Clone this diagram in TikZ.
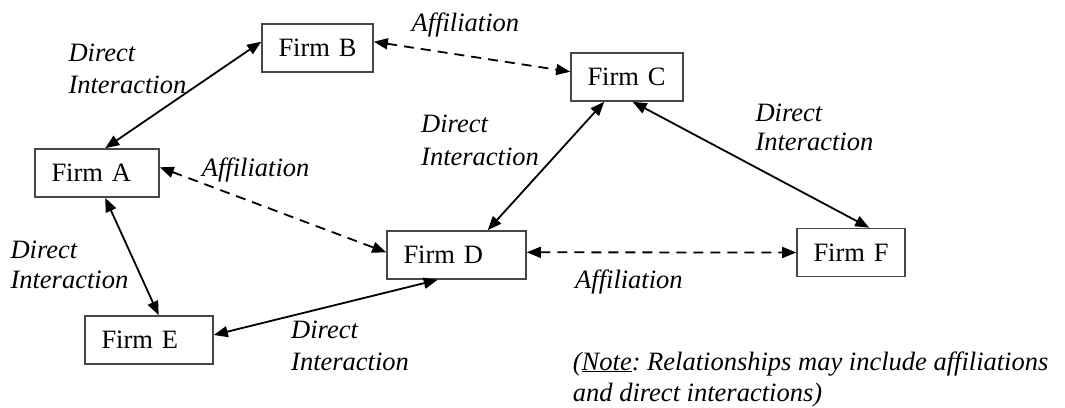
\documentclass[tikz,border=0pt]{standalone}
\usepackage{fontspec}
\setmainfont{LiberationSerif-Regular.ttf}[
  ItalicFont=LiberationSerif-Italic.ttf,
  BoldFont=LiberationSerif-Bold.ttf,
  BoldItalicFont=LiberationSerif-BoldItalic.ttf]
\usetikzlibrary{arrows.meta}
\frenchspacing
\begin{document}
\begin{tikzpicture}[x=1pt,y=-1pt,
  firm/.style={draw=black!72, line width=1.6pt, rectangle, inner xsep=16.5pt,
    inner ysep=0pt, minimum height=48pt, align=left,
    font=\fontsize{26.5}{31.7}\selectfont},
  lbl/.style={anchor=base west, inner sep=0pt,
    font=\fontsize{26.5}{31.7}\selectfont\itshape},
  link/.style={line width=1.8pt,
    {Triangle[length=14pt,width=11pt]}-{Triangle[length=14pt,width=11pt]}},
  affil/.style={link, dash pattern=on 10pt off 7pt}]

\useasboundingbox (0,0) rectangle (1065,407);

% firms
\node[firm, text width=91pt]  (A) at (97,173)    {\mbox{Firm A}};
\node[firm, text width=78pt]  (B) at (317.5,48)  {\mbox{Firm B}};
\node[firm, text width=79pt]  (C) at (627,77)    {\mbox{Firm C}};
\node[firm, text width=106pt] (D) at (456.5,255) {\mbox{Firm D}};
\node[firm, text width=95pt]  (E) at (149,340)   {\mbox{Firm E}};
\node[firm, text width=75pt]  (F) at (851,252.5) {\mbox{Firm F}};

% relationships
\draw[link]  ([xshift=71pt]A.north west) -- ([yshift=6.3pt]B.west);
\draw[affil] ([yshift=6.3pt]B.east) -- ([yshift=5.3pt]C.west);
\draw[affil] ([yshift=5.7pt]A.east) -- ([yshift=2.7pt]D.west);
\draw[link]  ([xshift=34pt]C.south west) -- ([xshift=101.5pt]D.north west);
\draw[link]  ([xshift=62.5pt]C.south west) -- ([xshift=73pt]F.north west);
\draw[affil] ([yshift=2.7pt]D.east) -- ([yshift=0pt]F.west);
\draw[link]  ([xshift=71pt]A.south west) -- ([xshift=74.5pt]E.north west);
\draw[link]  ([yshift=5pt]E.east) -- ([xshift=51.5pt]D.south west);

% relationship labels
\node[lbl] (ab1) at (68.3,61.7)  {Direct};
\node[lbl] (ab2) at (68.3,93.3)  {Interaction};
\node[lbl] (bc)  at (411.5,31.7) {Affiliation};
\node[lbl] (ad)  at (201.7,176.7) {Affiliation};
\node[lbl] (cd1) at (421,132.5)  {Direct};
\node[lbl] (cd2) at (421,165)    {Interaction};
\node[lbl] (cf1) at (755.3,121.7) {Direct};
\node[lbl] (cf2) at (755.3,150)  {Interaction};
\node[lbl] (ae1) at (10.3,258.3) {Direct};
\node[lbl] (ae2) at (10.3,288.3) {Interaction};
\node[lbl] (ed1) at (291,338.3)  {Direct};
\node[lbl] (ed2) at (291,370)    {Interaction};
\node[lbl] (df)  at (575,288.3)  {Affiliation};

% note
\node[lbl] (n1) at (572.7,370)   {(\underline{Note}: Relationships may include affiliations};
\node[lbl] (n2) at (572.7,401.7) {and direct interactions)};
\end{tikzpicture}
\end{document}
